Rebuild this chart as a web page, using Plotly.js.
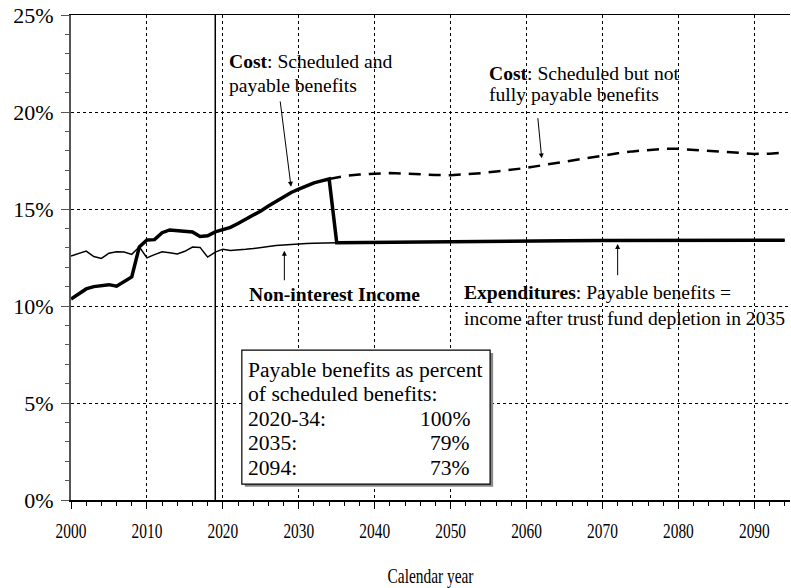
<!DOCTYPE html>
<html>
<head>
<meta charset="utf-8">
<script src="https://cdn.plot.ly/plotly-3.0.1.min.js"></script>
<style>html,body{margin:0;padding:0;background:#fff;}#chart{width:791px;height:588px;}</style>
</head>
<body>
<div id="chart"></div>
<script>
// ---- data (percent of taxable payroll) ----
const incomeYears = [2000,2001,2002,2003,2004,2005,2006,2007,2008,2009,2010,2011,2012,2013,2014,2015,2016,2017,2018,2019,2020,2021,2022,2023,2024,2025,2026,2027,2028,2029,2030,2031,2032,2033,2034,2035,2040,2045,2050,2055,2060,2065,2070,2075,2080,2085,2090,2094];
const incomeValues = [12.58,12.70,12.83,12.55,12.45,12.72,12.80,12.78,12.66,13.05,12.48,12.65,12.80,12.74,12.68,12.82,13.04,13.02,12.52,12.78,12.93,12.86,12.88,12.92,12.96,13.02,13.08,13.12,13.15,13.18,13.20,13.22,13.23,13.24,13.25,13.26,13.27,13.28,13.30,13.32,13.34,13.36,13.38,13.39,13.39,13.39,13.39,13.39];

const costYears = [2000,2001,2002,2003,2004,2005,2006,2007,2008,2009,2010,2011,2012,2013,2014,2015,2016,2017,2018,2019,2020,2021,2022,2023,2024,2025,2026,2027,2028,2029,2030,2031,2032,2033,2034,2035,2040,2045,2050,2055,2060,2065,2070,2075,2080,2085,2090,2094];
const costValues = [10.36,10.60,10.88,11.00,11.05,11.10,11.02,11.25,11.50,13.05,13.40,13.42,13.78,13.92,13.90,13.88,13.82,13.58,13.62,13.82,13.92,14.05,14.25,14.45,14.65,14.90,15.15,15.40,15.62,15.85,16.02,16.20,16.35,16.45,16.55,13.26,13.27,13.28,13.30,13.32,13.34,13.36,13.38,13.39,13.39,13.39,13.39,13.39];

const schedYears = [2034,2036,2038,2040,2042,2044,2046,2048,2050,2052,2054,2056,2058,2060,2062,2064,2066,2068,2070,2072,2074,2076,2078,2080,2082,2084,2086,2088,2090,2092,2094];
const schedValues = [16.55,16.70,16.78,16.82,16.85,16.83,16.78,16.75,16.74,16.78,16.85,16.93,17.02,17.12,17.25,17.38,17.50,17.62,17.75,17.87,17.97,18.05,18.10,18.10,18.05,17.98,17.92,17.87,17.84,17.85,17.92];

const boxLabels = ["2020-34:", "2035:", "2094:"];
const boxValues = ["100%", "79%", "73%"];

const FONT = "Liberation Serif";

const data = [
  {x: incomeYears, y: incomeValues, type: 'scatter', mode: 'lines', line: {color: 'black', width: 1.5}, hoverinfo: 'skip'},
  {x: schedYears, y: schedValues, type: 'scatter', mode: 'lines', line: {color: 'black', width: 2.5, dash: '12px,8px'}, hoverinfo: 'skip'},
  {x: costYears, y: costValues, type: 'scatter', mode: 'lines', line: {color: 'black', width: 3.5}, hoverinfo: 'skip'}
];

function ann(x, y, text, opts) {
  return Object.assign({x: x, y: y, xref: 'x', yref: 'y', text: text, showarrow: false,
    font: {family: FONT, size: 19.6, color: 'black'}, xanchor: 'left', yanchor: 'middle'}, opts || {});
}
function arrow(x, y, ax, ay) {
  return {x: x, y: y, ax: ax, ay: ay, xref: 'x', yref: 'y', axref: 'x', ayref: 'y', text: '',
    showarrow: true, arrowhead: 2, arrowsize: 1, arrowwidth: 1, arrowcolor: 'black', standoff: 0, startstandoff: 0};
}

const BOXFONT = {family: FONT, size: 21.6, color: 'black'};
const annotations = [
  ann(2020.5, 22.59, '<b>Cost</b>: Scheduled and'),
  ann(2020.5, 21.39, 'payable benefits'),
  ann(2054.8, 21.96, '<b>Cost</b>: Scheduled but not'),
  ann(2054.8, 20.88, 'fully payable benefits'),
  ann(2034.77, 10.57, '<b>Non-interest Income</b>', {xanchor: 'center'}),
  ann(2051.46, 10.70, '<b>Expenditures</b>: Payable benefits ='),
  ann(2051.46, 9.38, 'income after trust fund depletion in 2035'),
  arrow(2028.98, 16.15, 2027.53, 20.62),
  arrow(2062.0, 17.61, 2061.47, 19.76),
  arrow(2028.1, 12.85, 2028.1, 11.25),
  arrow(2072.0, 13.2, 2072.0, 11.51),
  ann(2023.05, 6.70, 'Payable benefits as percent', {font: BOXFONT}),
  ann(2023.05, 5.45, 'of scheduled benefits:', {font: BOXFONT})
];
const rowY = [4.18, 2.92, 1.66];
for (let i = 0; i < boxLabels.length; i++) {
  annotations.push(ann(2023.05, rowY[i], boxLabels[i], {font: BOXFONT}));
  annotations.push(ann(2052.82, rowY[i], boxValues[i], {xanchor: 'right', font: BOXFONT}));
}

const layout = {
  width: 791, height: 588,
  margin: {l: 71, r: 1, t: 15, b: 88},
  paper_bgcolor: 'white', plot_bgcolor: 'white',
  showlegend: false,
  font: {family: FONT, color: 'black'},
  xaxis: {
    range: [2000, 2094.7], tick0: 2000, dtick: 10,
    ticks: 'outside', ticklen: 7, tickwidth: 1, tickcolor: 'black',
    showline: true, linecolor: 'black', linewidth: 1.5, mirror: true,
    showgrid: true, gridcolor: 'black', gridwidth: 1, griddash: 'dot',
    zeroline: false,
    minor: {dtick: 2, tick0: 2000, ticks: 'outside', ticklen: 4, tickwidth: 1, tickcolor: 'black', showgrid: false},
    tickfont: {family: FONT, size: 22, color: 'black'},
    ticklabelstandoff: 3,
    title: {text: 'Calendar year', font: {family: FONT, size: 22, color: 'black'}, standoff: 28},
    automargin: false, fixedrange: true
  },
  yaxis: {
    range: [0, 25], tick0: 0, dtick: 5, ticksuffix: '%',
    ticks: 'outside', ticklen: 8, tickwidth: 1, tickcolor: '#555',
    showline: true, linecolor: '#555', linewidth: 2,
    showgrid: true, gridcolor: 'black', gridwidth: 1, griddash: 'dot',
    zeroline: false,
    minor: {dtick: 1, tick0: 0, ticks: 'outside', ticklen: 4, tickwidth: 1, tickcolor: '#555', showgrid: false},
    tickfont: {family: FONT, size: 22, color: 'black'},
    ticklabelstandoff: 3,
    automargin: false, fixedrange: true
  },
  shapes: [
    {type: 'line', xref: 'x', yref: 'y', x0: 2019, x1: 2019, y0: 0, y1: 25, line: {color: 'black', width: 1.5}},
    {type: 'rect', xref: 'x', yref: 'y', x0: 2022.9, x1: 2055.6, y0: 0.68, y1: 7.58, fillcolor: '#888', line: {width: 0}},
    {type: 'rect', xref: 'x', yref: 'y', x0: 2022.5, x1: 2055.2, y0: 0.82, y1: 7.73, fillcolor: 'white', line: {color: 'black', width: 1.2}}
  ],
  annotations: annotations
};

Plotly.newPlot('chart', data, layout, {staticPlot: true, displayModeBar: false}).then(function (gd) {
  // x-axis labels in the reference are horizontally condensed
  gd.querySelectorAll('.xtick text, .g-xtitle text').forEach(function (t) {
    const w = t.getComputedTextLength();
    t.setAttribute('textLength', (w * 0.7).toFixed(1));
    t.setAttribute('lengthAdjust', 'spacingAndGlyphs');
  });
});
</script>
</body>
</html>
